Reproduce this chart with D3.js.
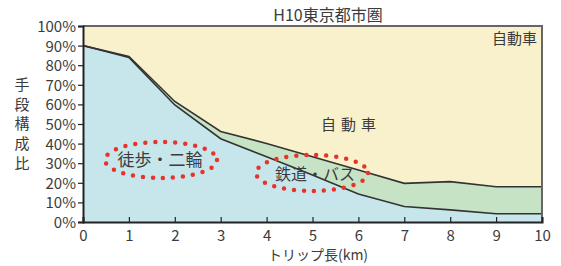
<!DOCTYPE html>
<html>
<head>
<meta charset="utf-8">
<script src="https://cdn.jsdelivr.net/npm/d3@7"></script>
<style>
  body { margin: 0; background: #fff; }
  svg text { font-family: "Noto Sans CJK JP", "Liberation Sans", sans-serif; fill: #3b3b3b; }
</style>
</head>
<body>
<div id="chart"></div>
<script>
// trip length (km)
var distances = [0, 1, 2, 3, 4, 5, 6, 7, 8, 9, 10];
// modal share (%)
var walkBike = [90, 84, 59.7, 42.5, 33.3, 24, 14.3, 7.9, 6.2, 4.2, 4.2];
var railBus  = [0, 0.5, 1.8, 3.7, 6.8, 9.3, 12.2, 11.8, 14.4, 13.8, 13.8];
var car      = distances.map(function (d, i) { return 100 - walkBike[i] - railBus[i]; });

var yTicks = [0, 10, 20, 30, 40, 50, 60, 70, 80, 90, 100];
var yLabelChars = ["手", "段", "構", "成", "比"];

var W = 561, H = 266;
var margin = {top: 26, right: 19, bottom: 44, left: 83};

var svg = d3.select("#chart").append("svg")
    .attr("width", W)
    .attr("height", H);

var x = d3.scaleLinear().domain([0, 10]).range([margin.left, W - margin.right]);
var y = d3.scaleLinear().domain([0, 100]).range([H - margin.bottom, margin.top]);

var rows = distances.map(function (d, i) {
    return {km: d, walk: walkBike[i], rail: railBus[i], car: car[i]};
});
var stack = d3.stack().keys(["walk", "rail", "car"]);
var series = stack(rows);
var fills = {walk: "#c6e6ec", rail: "#c6e3c6", car: "#f9f1cb"};

var area = d3.area()
    .x(function (d) { return x(d.data.km); })
    .y0(function (d) { return y(d[0]); })
    .y1(function (d) { return y(d[1]); });

svg.append("g")
    .selectAll("path")
    .data(series)
    .enter()
    .append("path")
    .attr("d", area)
    .attr("fill", function (d) { return fills[d.key]; });

// boundary lines
var line = d3.line()
    .x(function (d) { return x(d.data.km); })
    .y(function (d) { return y(d[1]); });
svg.append("g")
    .selectAll("path")
    .data(series.slice(0, 2))
    .enter()
    .append("path")
    .attr("d", line)
    .attr("fill", "none")
    .attr("stroke", "#333")
    .attr("stroke-width", 1.6);

// frame top / right
svg.append("path")
    .attr("d", "M" + x(0) + "," + y(100) + "H" + x(10) + "V" + y(0))
    .attr("fill", "none")
    .attr("stroke", "#666")
    .attr("stroke-width", 2);

// axes
var yAxis = svg.append("g")
    .attr("transform", "translate(" + x(0) + ",0)")
    .call(d3.axisLeft(y).tickValues(yTicks).tickSize(5).tickFormat(function (d) { return d + "%"; }));
var xAxis = svg.append("g")
    .attr("transform", "translate(0," + y(0) + ")")
    .call(d3.axisBottom(x).tickValues(distances).tickSize(-5).tickFormat(d3.format("d")));

[yAxis, xAxis].forEach(function (g) {
    g.select(".domain").attr("stroke", "#222").attr("stroke-width", 2);
    g.selectAll(".tick line").attr("stroke", "#222").attr("stroke-width", 1.2);
    g.selectAll("text").style("font-size", "15px").attr("fill", "#3b3b3b");
});
yAxis.selectAll("text").attr("x", -7).attr("dy", "0.36em");
xAxis.selectAll("text").attr("y", 8).attr("dy", "0.71em");
xAxis.selectAll(".tick line").attr("y2", -5);

// titles
svg.append("text")
    .attr("x", 328).attr("y", 21)
    .attr("text-anchor", "middle")
    .style("font-size", "16px")
    .text("H10東京都市圏");

svg.append("text")
    .attr("x", 318).attr("y", 260)
    .attr("text-anchor", "middle")
    .style("font-size", "14px")
    .text("トリップ長(km)");

svg.append("g")
    .selectAll("text")
    .data(yLabelChars)
    .enter()
    .append("text")
    .attr("x", 22)
    .attr("y", function (d, i) { return y(70 - i * 10); })
    .attr("dy", "0.36em")
    .attr("text-anchor", "middle")
    .style("font-size", "15px")
    .text(function (d) { return d; });

// series labels
svg.append("text")
    .attr("x", 537).attr("y", 44)
    .attr("text-anchor", "end")
    .style("font-size", "15px")
    .text("自動車");

svg.append("text")
    .attr("x", 351).attr("y", 130)
    .attr("text-anchor", "middle")
    .style("font-size", "15px")
    .style("letter-spacing", "5px")
    .text("自動車");

svg.append("text")
    .attr("x", 160).attr("y", 166)
    .attr("text-anchor", "middle")
    .style("font-size", "17px")
    .text("徒歩・二輪");

svg.append("text")
    .attr("x", 315).attr("y", 180)
    .attr("text-anchor", "middle")
    .style("font-size", "16px")
    .text("鉄道・バス");

// red dotted rings
var rings = [{cx: 161, cy: 160, rx: 56, ry: 18}, {cx: 312, cy: 173, rx: 56, ry: 18}];
svg.append("g")
    .selectAll("ellipse")
    .data(rings)
    .enter()
    .append("ellipse")
    .attr("cx", function (d) { return d.cx; })
    .attr("cy", function (d) { return d.cy; })
    .attr("rx", function (d) { return d.rx; })
    .attr("ry", function (d) { return d.ry; })
    .attr("fill", "none")
    .attr("stroke", "#e8332b")
    .attr("stroke-width", 4.5)
    .attr("stroke-linecap", "round")
    .attr("stroke-dasharray", "0 10");
</script>
</body>
</html>
